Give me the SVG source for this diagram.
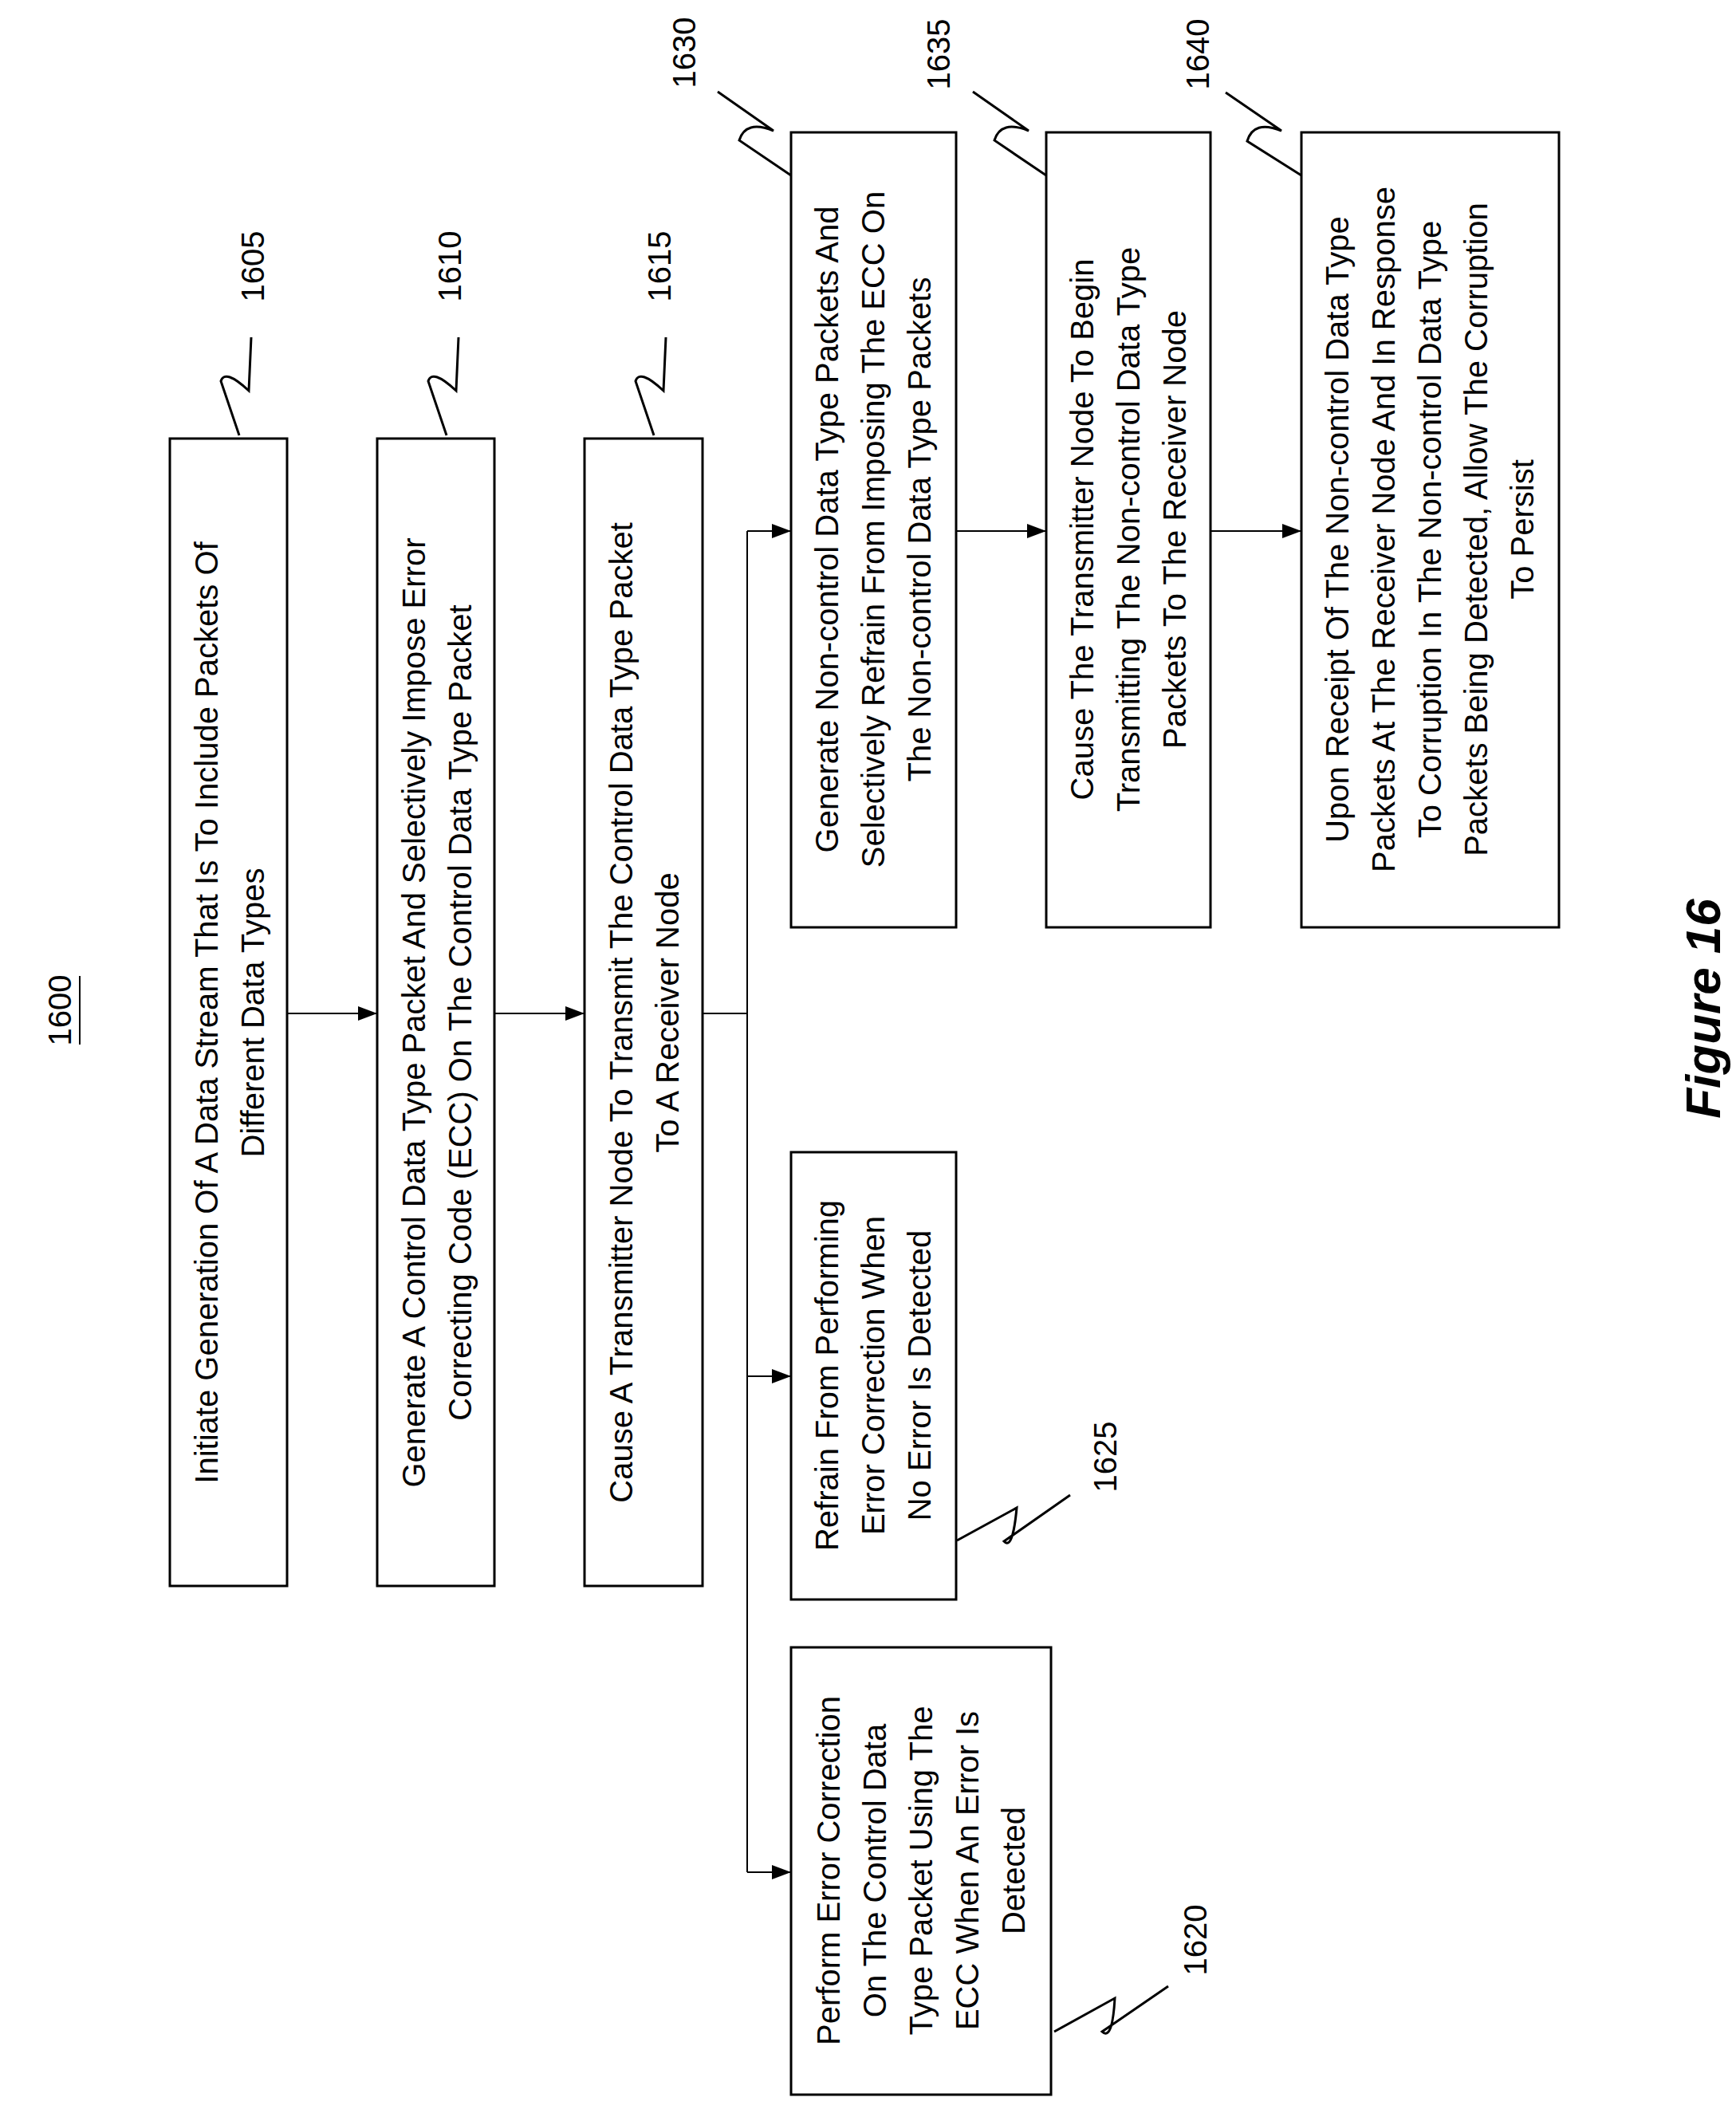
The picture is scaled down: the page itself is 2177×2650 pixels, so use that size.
<svg xmlns="http://www.w3.org/2000/svg" width="2177" height="2650" viewBox="0 0 2177 2650">
<style>
.box{fill:#fff;stroke:#000;stroke-width:3}
.t{font-family:"Liberation Sans",Arial,sans-serif;font-size:40px;fill:#000;text-anchor:middle}
.lbl{font-family:"Liberation Sans",Arial,sans-serif;font-size:40px;fill:#000;text-anchor:middle}
.ln{fill:none;stroke:#000;stroke-width:2}
.sq{fill:none;stroke:#000;stroke-width:3}
</style>
<defs>
<marker id="ah" markerWidth="24" markerHeight="18" refX="24" refY="9" orient="auto" markerUnits="userSpaceOnUse">
<path d="M0,0 L24,9 L0,18 Z" fill="#000"/>
</marker>
</defs>
<rect width="2177" height="2650" fill="#fff"/>
<g id="title">
<text class="lbl" transform="translate(89,1267) rotate(-90)">1600</text>
<line x1="100" y1="1224" x2="100" y2="1310" stroke="#000" stroke-width="2"/>
</g>
<g id="connectors">
<line class="ln" x1="360" y1="1271" x2="473" y2="1271" marker-end="url(#ah)"/>
<line class="ln" x1="620" y1="1271" x2="733" y2="1271" marker-end="url(#ah)"/>
<polyline class="ln" points="881,1271 937,1271"/>
<polyline class="ln" points="937,666 937,2348"/>
<line class="ln" x1="937" y1="666" x2="992" y2="666" marker-end="url(#ah)"/>
<line class="ln" x1="937" y1="1726" x2="992" y2="1726" marker-end="url(#ah)"/>
<line class="ln" x1="937" y1="2348" x2="992" y2="2348" marker-end="url(#ah)"/>
<line class="ln" x1="1199" y1="666" x2="1312" y2="666" marker-end="url(#ah)"/>
<line class="ln" x1="1518" y1="666" x2="1632" y2="666" marker-end="url(#ah)"/>
</g>
<g id="n1605">
<rect class="box" x="213" y="550" width="147" height="1439"/>
<text class="t" transform="translate(287,1270) rotate(-90)"><tspan x="0" y="-14">Initiate Generation Of A Data Stream That Is To Include Packets Of</tspan><tspan x="0" y="44">Different Data Types</tspan></text>
<path class="sq" d="M300,546 L277,478 Q282,462 312,490 L315,423"/>
<text class="lbl" transform="translate(331,334) rotate(-90)">1605</text>
</g>
<g id="n1610">
<rect class="box" x="473" y="550" width="147" height="1439"/>
<text class="t" transform="translate(547,1270) rotate(-90)"><tspan x="0" y="-14">Generate A Control Data Type Packet And Selectively Impose Error</tspan><tspan x="0" y="44">Correcting Code (ECC) On The Control Data Type Packet</tspan></text>
<path class="sq" d="M560,546 L537,478 Q542,462 572,490 L575,423"/>
<text class="lbl" transform="translate(578,334) rotate(-90)">1610</text>
</g>
<g id="n1615">
<rect class="box" x="733" y="550" width="148" height="1439"/>
<text class="t" transform="translate(807,1270) rotate(-90)"><tspan x="0" y="-14">Cause A Transmitter Node To Transmit The Control Data Type Packet</tspan><tspan x="0" y="44">To A Receiver Node</tspan></text>
<path class="sq" d="M820,546 L797,478 Q802,462 832,490 L835,423"/>
<text class="lbl" transform="translate(841,334) rotate(-90)">1615</text>
</g>
<g id="n1630">
<rect class="box" x="992" y="166" width="207" height="997"/>
<text class="t" transform="translate(1095,664) rotate(-90)"><tspan x="0" y="-44">Generate Non-control Data Type Packets And</tspan><tspan x="0" y="14">Selectively Refrain From Imposing The ECC On</tspan><tspan x="0" y="72">The Non-control Data Type Packets</tspan></text>
<path class="sq" d="M992,220 L927,176 Q935,150 970,164 L900,115"/>
<text class="lbl" transform="translate(872,66) rotate(-90)">1630</text>
</g>
<g id="n1635">
<rect class="box" x="1312" y="166" width="206" height="997"/>
<text class="t" transform="translate(1415,664) rotate(-90)"><tspan x="0" y="-44">Cause The Transmitter Node To Begin</tspan><tspan x="0" y="14">Transmitting The Non-control Data Type</tspan><tspan x="0" y="72">Packets To The Receiver Node</tspan></text>
<path class="sq" d="M1312,220 L1247,176 Q1255,150 1290,164 L1220,115"/>
<text class="lbl" transform="translate(1191,68) rotate(-90)">1635</text>
</g>
<g id="n1640">
<rect class="box" x="1632" y="166" width="323" height="997"/>
<text class="t" transform="translate(1793,664) rotate(-90)"><tspan x="0" y="-102">Upon Receipt Of The Non-control Data Type</tspan><tspan x="0" y="-44">Packets At The Receiver Node And In Response</tspan><tspan x="0" y="14">To Corruption In The Non-control Data Type</tspan><tspan x="0" y="72">Packets Being Detected, Allow The Corruption</tspan><tspan x="0" y="130">To Persist</tspan></text>
<path class="sq" d="M1632,220 L1564,177 Q1572,150 1607,164 L1537,116"/>
<text class="lbl" transform="translate(1516,68) rotate(-90)">1640</text>
</g>
<g id="n1625">
<rect class="box" x="992" y="1445" width="207" height="561"/>
<text class="t" transform="translate(1095,1725) rotate(-90)"><tspan x="0" y="-44">Refrain From Performing</tspan><tspan x="0" y="14">Error Correction When</tspan><tspan x="0" y="72">No Error Is Detected</tspan></text>
<path class="sq" d="M1200,1932 L1275,1891 Q1270,1945 1259,1933 L1342,1875"/>
<text class="lbl" transform="translate(1400,1827) rotate(-90)">1625</text>
</g>
<g id="n1620">
<rect class="box" x="992" y="2066" width="326" height="561"/>
<text class="t" transform="translate(1155,2346) rotate(-90)"><tspan x="0" y="-102">Perform Error Correction</tspan><tspan x="0" y="-44">On The Control Data</tspan><tspan x="0" y="14">Type Packet Using The</tspan><tspan x="0" y="72">ECC When An Error Is</tspan><tspan x="0" y="130">Detected</tspan></text>
<path class="sq" d="M1322,2548 L1398,2506 Q1395,2560 1382,2548 L1465,2491"/>
<text class="lbl" transform="translate(1513,2433) rotate(-90)">1620</text>
</g>
<g id="caption">
<text transform="translate(2157,1265) rotate(-90)" style="font-family:'Liberation Sans',Arial,sans-serif;font-size:62px;font-weight:bold;font-style:italic;text-anchor:middle">Figure 16</text>
</g>
</svg>
